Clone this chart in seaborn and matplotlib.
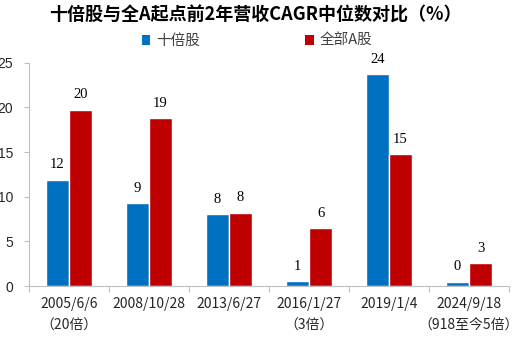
import matplotlib
matplotlib.use("Agg")
import matplotlib.pyplot as plt
from matplotlib.patches import Patch
from matplotlib.ticker import FixedLocator
import seaborn as sns
import pandas as pd

# Start dates of each ten-bagger wave, with the wave's multiple where noted
categories = ["2005/6/6\n（20倍）", "2008/10/28", "2013/6/27",
              "2016/1/27\n（3倍）", "2019/1/4", "2024/9/18\n（918至今5倍）"]
series_names = ["十倍股", "全部A股"]
tenbagger_cagr = [11.9, 9.3, 8.05, 0.55, 23.7, 0.48]
all_a_cagr = [19.75, 18.8, 8.2, 6.5, 14.75, 2.55]
y_ticks = [0, 5, 10, 15, 20, 25]

colors = ["#0070C0", "#C00000"]
cjk = ["Noto Sans CJK SC", "DejaVu Sans"]

sns.set_style("white")
plt.rcParams["font.family"] = cjk

df = pd.DataFrame({
    "date": categories * 2,
    "series": [series_names[0]] * len(categories) + [series_names[1]] * len(categories),
    "cagr": tenbagger_cagr + all_a_cagr,
})

fig = plt.figure(figsize=(5.14, 3.37), dpi=100)
ax = fig.add_axes([0.0564, 0.151, 0.9336, 0.663])

sns.barplot(data=df, x="date", y="cagr", hue="series", order=categories,
            hue_order=series_names, palette=colors, width=0.58, gap=0,
            saturation=1, legend=False, ax=ax)

for cont in ax.containers:
    ax.bar_label(cont, fmt="{:.0f}", padding=6, fontsize=10.5,
                 fontfamily="Liberation Serif", color="#000000")

ax.set_xlim(-0.5, len(categories) - 0.5)
ax.set_ylim(0, 25)
ax.set_yticks(y_ticks)
ax.set_xlabel("")
ax.set_ylabel("")

spine_col = "#BFBFBF"
for side in ["top", "right"]:
    ax.spines[side].set_visible(False)
ax.spines["left"].set_color(spine_col)
ax.spines["bottom"].set_color(spine_col)

ax.tick_params(axis="y", which="major", direction="out", length=3.6, width=0.8,
               color=spine_col, labelsize=10, pad=8, left=True)
ax.tick_params(axis="x", which="major", length=0, labelsize=10, pad=8)
ax.xaxis.set_minor_locator(FixedLocator([i - 0.5 for i in range(len(categories) + 1)]))
ax.tick_params(axis="x", which="minor", direction="out", length=4, width=0.8,
               color=spine_col, bottom=True)
for lbl in ax.get_xticklabels():
    lbl.set_linespacing(1.65)
    lbl.set_verticalalignment("top")
for lbl in ax.get_yticklabels():
    lbl.set_fontfamily("Liberation Sans")

handles = [Patch(facecolor=c, edgecolor="none") for c in colors]
fig.legend(handles, series_names, loc="center", bbox_to_anchor=(0.5, 0.878),
           ncol=2, frameon=False, fontsize=10.5, handlelength=0.6,
           handleheight=0.6, handletextpad=0.4, columnspacing=7.2,
           labelcolor="#404040")

fig.text(0.497, 0.955, "十倍股与全A起点前2年营收CAGR中位数对比（%）",
         ha="center", va="center", fontsize=13, fontweight="bold",
         color="#000000")

fig.savefig("out.png", dpi=100)
